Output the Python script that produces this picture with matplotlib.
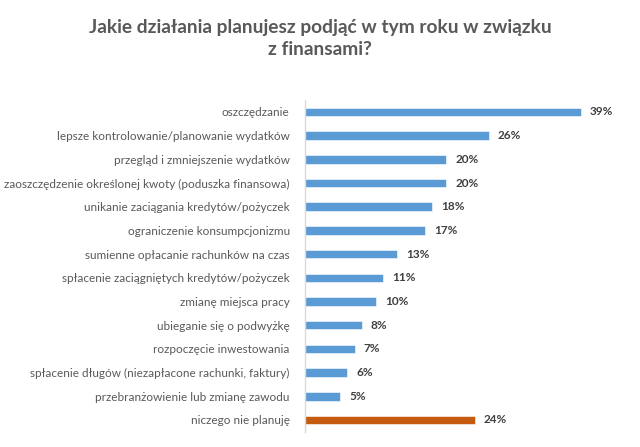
import matplotlib
matplotlib.use("Agg")
from matplotlib import pyplot as plt

categories = [
    "oszczędzanie",
    "lepsze kontrolowanie/planowanie wydatków",
    "przegląd i zmniejszenie wydatków",
    "zaoszczędzenie określonej kwoty (poduszka finansowa)",
    "unikanie zaciągania kredytów/pożyczek",
    "ograniczenie konsumpcjonizmu",
    "sumienne opłacanie rachunków na czas",
    "spłacenie zaciągniętych kredytów/pożyczek",
    "zmianę miejsca pracy",
    "ubieganie się o podwyżkę",
    "rozpoczęcie inwestowania",
    "spłacenie długów (niezapłacone rachunki, faktury)",
    "przebranżowienie lub zmianę zawodu",
    "niczego nie planuję",
]
values = [39, 26, 20, 20, 18, 17, 13, 11, 10, 8, 7, 6, 5, 24]
colors = ["#5B9BD5"] * 13 + ["#C55A11"]

plt.rcParams["font.family"] = ["Lato", "DejaVu Sans"]

fig = plt.figure(figsize=(6.4, 4.47), dpi=100)
ax = fig.add_axes([0.4766, 0.034, 0.497, 0.742])

pos = list(range(len(categories)))
ax.barh(pos, values, height=0.36, color=colors, edgecolor="white", linewidth=0.4)
for p, v in zip(pos, values):
    ax.text(v + 1.3, p, f"{v}%", va="center", ha="left", fontsize=8.5,
            fontweight="bold", color="#404040")

ax.set_xlim(0, 45)
ax.set_ylim(13.5, -0.5)
ax.set_yticks(pos)
ax.set_yticklabels(categories, fontsize=8.5, color="#595959")
ax.tick_params(axis="y", length=0, pad=11)
ax.set_xticks([])
for s in ["top", "right", "bottom"]:
    ax.spines[s].set_visible(False)
ax.spines["left"].set_color("#D9D9D9")
ax.spines["left"].set_linewidth(1)

fig.text(0.5, 0.914, "Jakie działania planujesz podjąć w tym roku w związku\nz finansami?",
         ha="center", va="center", fontsize=13.8, fontweight="bold", color="#595959",
         linespacing=1.3)

fig.savefig("out.png", dpi=100)
